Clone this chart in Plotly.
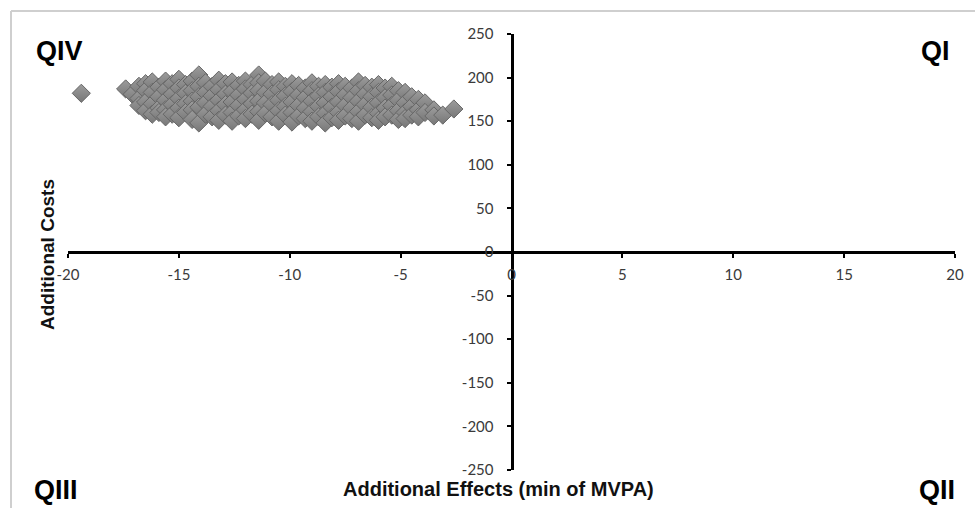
import plotly.graph_objects as go

# Incremental cost-effectiveness plane: simulated (effect, cost) pairs
effects = [
    -19.4, -17.4, -17.1,
    -16.8, -16.8, -16.8,
    -16.5, -16.5, -16.5, -16.5,
    -16.2, -16.2, -16.2, -16.2,
    -15.9, -15.9, -15.9, -15.9,
    -15.6, -15.6, -15.6, -15.6, -15.6,
    -15.3, -15.3, -15.3, -15.3,
    -15.0, -15.0, -15.0, -15.0, -15.0,
    -14.7, -14.7, -14.7, -14.7,
    -14.4, -14.4, -14.4, -14.4, -14.4,
    -14.1, -14.1, -14.1, -14.1, -14.1,
    -13.8, -13.8, -13.8, -13.8,
    -13.5, -13.5, -13.5, -13.5,
    -13.2, -13.2, -13.2, -13.2, -13.2,
    -12.9, -12.9, -12.9, -12.9,
    -12.6, -12.6, -12.6, -12.6, -12.6,
    -12.3, -12.3, -12.3, -12.3,
    -12.0, -12.0, -12.0, -12.0, -12.0,
    -11.7, -11.7, -11.7, -11.7,
    -11.4, -11.4, -11.4, -11.4, -11.4, -11.4,
    -11.1, -11.1, -11.1, -11.1,
    -10.8, -10.8, -10.8, -10.8,
    -10.5, -10.5, -10.5, -10.5, -10.5,
    -10.2, -10.2, -10.2, -10.2,
    -9.9, -9.9, -9.9, -9.9, -9.9,
    -9.6, -9.6, -9.6, -9.6,
    -9.3, -9.3, -9.3, -9.3,
    -9.0, -9.0, -9.0, -9.0, -9.0,
    -8.7, -8.7, -8.7, -8.7,
    -8.4, -8.4, -8.4, -8.4, -8.4,
    -8.1, -8.1, -8.1, -8.1,
    -7.8, -7.8, -7.8, -7.8, -7.8,
    -7.5, -7.5, -7.5, -7.5,
    -7.2, -7.2, -7.2, -7.2,
    -6.9, -6.9, -6.9, -6.9, -6.9,
    -6.6, -6.6, -6.6, -6.6,
    -6.3, -6.3, -6.3, -6.3,
    -6.0, -6.0, -6.0, -6.0, -6.0,
    -5.7, -5.7, -5.7, -5.7,
    -5.4, -5.4, -5.4, -5.4,
    -5.1, -5.1, -5.1, -5.1,
    -4.8, -4.8, -4.8, -4.8,
    -4.5, -4.5, -4.5,
    -4.2, -4.2, -4.2,
    -3.9, -3.9,
    -3.5, -3.5,
    -3.1,
    -2.6,
]
costs = [
    182, 187, 181,
    190, 176, 168,
    193, 185, 172, 162,
    195, 183, 170, 158,
    189, 178, 165, 160,
    196, 186, 174, 163, 155,
    193, 181, 169, 158,
    198, 188, 176, 165, 154,
    192, 182, 170, 160,
    196, 185, 173, 163, 152,
    203, 190, 178, 166, 148,
    194, 183, 171, 158,
    190, 179, 167, 155,
    197, 186, 174, 162, 151,
    193, 181, 169, 157,
    195, 184, 172, 160, 150,
    191, 180, 168, 156,
    196, 187, 175, 163, 153,
    192, 182, 170, 158,
    203, 194, 185, 173, 161, 151,
    196, 183, 171, 159,
    192, 181, 169, 155,
    195, 186, 174, 162, 150,
    190, 179, 167, 157,
    193, 184, 172, 160, 149,
    191, 180, 168, 156,
    188, 177, 165, 153,
    194, 185, 173, 161, 150,
    190, 179, 167, 155,
    192, 183, 171, 159, 148,
    189, 178, 166, 154,
    193, 184, 172, 160, 151,
    190, 180, 168, 156,
    188, 177, 165, 153,
    195, 185, 173, 161, 150,
    191, 181, 169, 157,
    189, 178, 166, 154,
    192, 183, 171, 159, 151,
    188, 177, 165, 155,
    190, 180, 168, 157,
    185, 174, 162, 152,
    183, 171, 160, 153,
    178, 167, 157,
    175, 163, 155,
    171, 160,
    163, 156,
    157,
    164,
]

x_ticks = [-20, -15, -10, -5, 0, 5, 10, 15, 20]
y_ticks = [-250, -200, -150, -100, -50, 0, 50, 100, 150, 200, 250]

x_title = "Additional Effects (min of MVPA)"
y_title = "Additional Costs"
quadrants = {"QIV": (34, 51), "QI": (952, 51), "QIII": (32, 490), "QII": (957, 490)}

W, H = 975, 508
ml, mr, mt, mb = 68, 20, 34, 38
pw, ph = W - ml - mr, H - mt - mb


def px2paper(px, py):
    return (px - ml) / pw, (H - mb - py) / ph


fig = go.Figure()
fig.add_trace(go.Scatter(
    x=effects, y=costs, mode="markers",
    marker=dict(symbol="diamond", size=14, color="#9c9c9c",
                gradient=dict(type="vertical", color="#777777"),
                line=dict(color="#666666", width=1)),
    showlegend=False, hoverinfo="x+y",
))

tick_font = dict(family="Lato, Liberation Sans, sans-serif", size=15, color="#3a3a3a")
fig.update_xaxes(
    range=[-20, 20], tickvals=x_ticks, ticktext=[str(v) for v in x_ticks],
    showgrid=False, zeroline=False, showline=True, linecolor="black", linewidth=3,
    ticks="outside", ticklen=4, tickwidth=2, tickcolor="black",
    anchor="free", position=0.5, tickfont=tick_font, ticklabelstandoff=4,
)
fig.update_yaxes(
    range=[-250, 250], tickvals=y_ticks, ticktext=[str(v) for v in y_ticks],
    showgrid=False, zeroline=False, showline=True, linecolor="black", linewidth=3,
    ticks="outside", ticklen=4, tickwidth=2, tickcolor="black",
    anchor="free", position=0.5, tickfont=tick_font, ticklabelstandoff=10,
)

annotations = []
for label, (px, py) in quadrants.items():
    xp, yp = px2paper(px, py)
    anchor = "left" if px < W / 2 else "right"
    annotations.append(dict(text="<b>" + label + "</b>", x=xp, y=yp, xref="paper", yref="paper",
                            xanchor=anchor, yanchor="middle", showarrow=False,
                            font=dict(family="Liberation Sans, Arial", size=27, color="black")))
xp, yp = px2paper(498, 489)
annotations.append(dict(text="<b>" + x_title + "</b>", x=xp, y=yp, xref="paper", yref="paper",
                        xanchor="center", yanchor="middle", showarrow=False,
                        font=dict(family="Liberation Sans, Arial", size=20, color="#111")))
xp, yp = px2paper(47, 255)
annotations.append(dict(text="<b>" + y_title + "</b>", x=xp, y=yp, xref="paper", yref="paper",
                        xanchor="center", yanchor="middle", showarrow=False, textangle=-90,
                        font=dict(family="Liberation Sans, Arial", size=19, color="#111")))

# light outer frame (top and left edges)
x0, y0 = px2paper(11, 11)
x1, y1 = px2paper(975, 508)
shapes = [
    dict(type="line", xref="paper", yref="paper", x0=x0, x1=x1, y0=y0, y1=y0,
         line=dict(color="#cfcfcf", width=2)),
    dict(type="line", xref="paper", yref="paper", x0=x0, x1=x0, y0=y0, y1=y1,
         line=dict(color="#cfcfcf", width=2)),
]

fig.update_layout(
    width=W, height=H, margin=dict(l=ml, r=mr, t=mt, b=mb),
    paper_bgcolor="white", plot_bgcolor="white",
    annotations=annotations, shapes=shapes,
)

fig.write_html("out.html")
